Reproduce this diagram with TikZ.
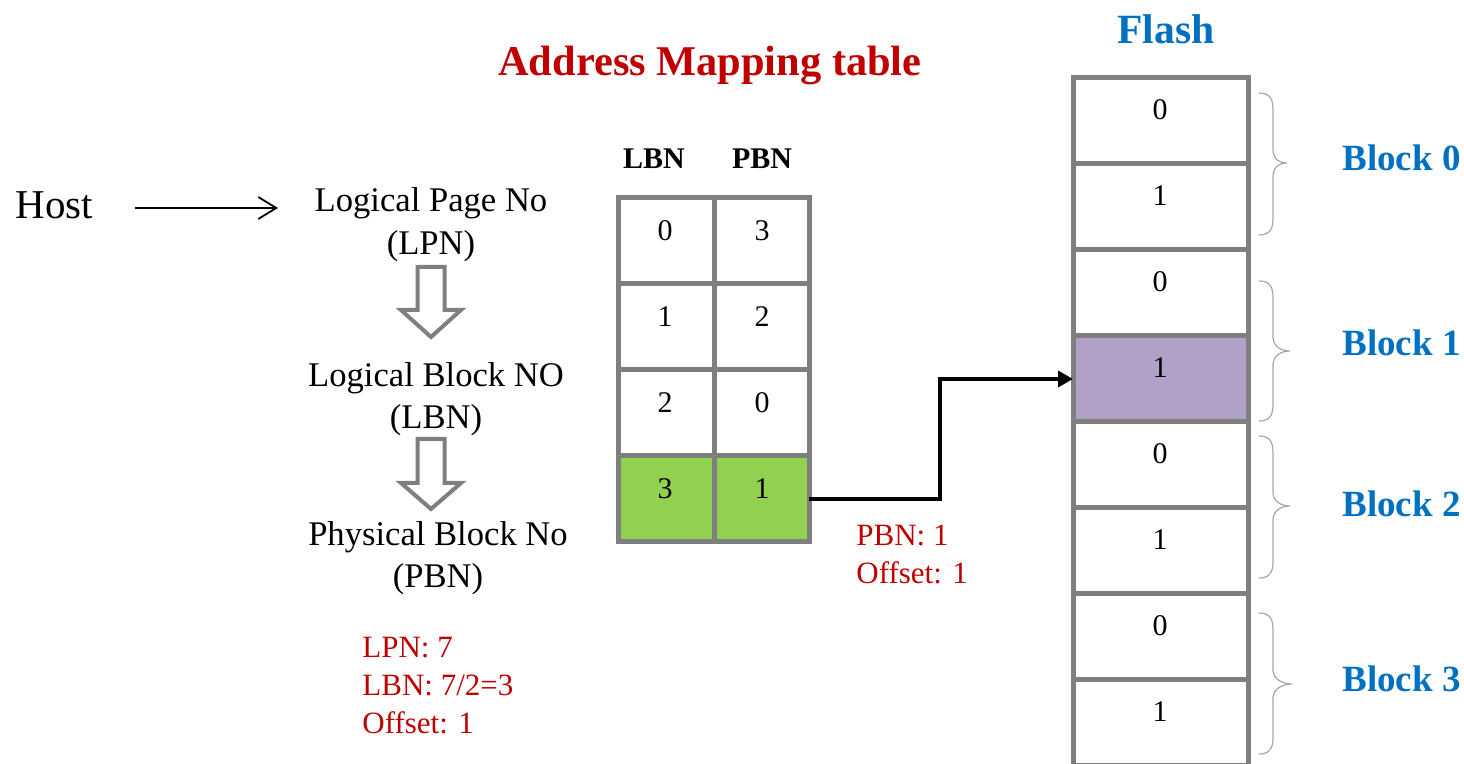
\documentclass[tikz,border=0pt]{standalone}
\usepackage{fontspec}
\setmainfont{Liberation Serif}
\usetikzlibrary{arrows.meta}
\definecolor{titlered}{HTML}{C00000}
\definecolor{flashblue}{HTML}{0070C0}
\definecolor{gridgray}{HTML}{7F7F7F}
\definecolor{bracegray}{HTML}{A6A6A6}
\definecolor{hitgreen}{HTML}{92D050}
\definecolor{hitpurple}{HTML}{B1A0C7}
\newcommand{\fs}[1]{\fontsize{#1}{1.2\dimexpr #1\relax}\selectfont}
\tikzset{
  cell/.style={draw=gridgray, line width=2.5pt, minimum height=43pt,
    inner sep=0pt, outer sep=0pt, anchor=north west},
  digit/.style={anchor=base, inner sep=0pt, font=\fs{15pt}},
  plain/.style={anchor=base, inner sep=0pt, font=\fs{17.3pt}},
  note/.style={anchor=base west, inner sep=0pt, text=titlered, font=\fs{15.5pt}},
  blocklbl/.style={anchor=base west, inner sep=0pt, text=flashblue, font=\bfseries\fs{18.5pt}},
  colhead/.style={anchor=base, inner sep=0pt, font=\bfseries\fs{15pt}},
  hollowarrow/.style={draw=gridgray, line width=2pt, fill=white, line join=miter},
  bracepath/.style={draw=bracegray, line width=0.6pt},
}
\begin{document}
\begin{tikzpicture}[x=0.5pt, y=-0.5pt]
\useasboundingbox (0,0) rectangle (1464,764);
\clip (0,0) rectangle (1464,764);

% titles
\node[anchor=base, inner sep=0pt, text=titlered, font=\bfseries\fs{21.2pt}] (title) at (710,76) {Address Mapping table};
\node[anchor=base, inner sep=0pt, text=flashblue, font=\bfseries\fs{20.8pt}] (flash) at (1166,44) {Flash};

% host and the translation steps
\node[anchor=base west, inner sep=0pt, font=\fs{20.5pt}] (host) at (15,219) {Host};
\node[plain] (lpn) at (431,212) {Logical Page No};
\node[plain] (lpn2) at (431,255) {(LPN)};
\node[plain] (lbn) at (436,387) {Logical Block NO};
\node[plain] (lbn2) at (436,429) {(LBN)};
\node[plain] (pbn) at (438,546) {Physical Block No};
\node[plain] (pbn2) at (438,588) {(PBN)};

\coordinate (hs) at (135,208);
\coordinate (he) at (278,208);
\draw[line width=0.9pt, -{Straight Barb[length=9pt,width=11pt,line width=0.9pt]}] (hs) -- (he);

% hollow block arrows between the steps
\foreach \ys/\yh/\yt in {267/310/337, 439/483/509}{
  \draw[hollowarrow] (417.5,\ys) -- (444.5,\ys) -- (444.5,\yh) -- (461,\yh)
    -- (431,\yt) -- (401,\yh) -- (417.5,\yh) -- cycle;
}

% worked example
\node[note] (n1) at (362,658) {LPN: 7};
\node[note] (n2) at (362,696) {LBN: 7/2=3};
\node[note] (n3) at (362,734) {Offset: 1};
\node[note] (p1) at (856,546) {PBN: 1};
\node[note] (p2) at (856,584) {Offset: 1};

% mapping table
\node[colhead] (hl) at (654,169) {LBN};
\node[colhead] (hp) at (762,169) {PBN};
\foreach \r/\a/\b in {0/0/3, 1/1/2, 2/2/0, 3/3/1}{
  \pgfmathsetmacro{\ty}{198+86*\r}
  \ifnum\r=3
    \node[cell, fill=hitgreen, minimum width=48pt] (t\r0) at (618,\ty) {};
    \node[cell, fill=hitgreen, minimum width=47.5pt] (t\r1) at (714,\ty) {};
  \else
    \node[cell, minimum width=48pt] (t\r0) at (618,\ty) {};
    \node[cell, minimum width=47.5pt] (t\r1) at (714,\ty) {};
  \fi
  \node[digit] (d\r0) at (665,\ty+43) {\a};
  \node[digit] (d\r1) at (762,\ty+43) {\b};
}

% flash pages
\foreach \k/\p in {0/0,1/1,2/0,3/1,4/0,5/1,6/0,7/1}{
  \pgfmathsetmacro{\fy}{78+86*\k}
  \ifnum\k=3
    \node[cell, fill=hitpurple, minimum width=87.5pt] (f\k) at (1073,\fy) {};
  \else
    \node[cell, minimum width=87.5pt] (f\k) at (1073,\fy) {};
  \fi
  \node[digit] (fd\k) at (1160,\fy+42) {\p};
}

% braces grouping pages into blocks
\foreach \yt/\ym/\yb/\xt in {93/163/235/1287, 281/351/421/1290, 436/506/578/1290, 613/684/754/1292}{
  \draw[bracepath] (1259,\yt) .. controls (1268,\yt) and (1273,\yt+4) .. (1273,\yt+16)
    -- (1273,\ym-14) .. controls (1273,\ym-4) and (\xt-8,\ym) .. (\xt,\ym)
    .. controls (\xt-8,\ym) and (1273,\ym+4) .. (1273,\ym+14)
    -- (1273,\yb-16) .. controls (1273,\yb-4) and (1268,\yb) .. (1259,\yb);
}
\node[blocklbl] (b0) at (1342,171) {Block 0};
\node[blocklbl] (b1) at (1342,356) {Block 1};
\node[blocklbl] (b2) at (1342,517) {Block 2};
\node[blocklbl] (b3) at (1342,692) {Block 3};

% table entry to physical page
\coordinate (bend) at (940,379);
\draw[line width=2pt, -{Triangle[length=7.5pt,width=8pt]}]
  (t31.east) -- (t31.east -| bend) |- (f3.west);
\end{tikzpicture}
\end{document}
